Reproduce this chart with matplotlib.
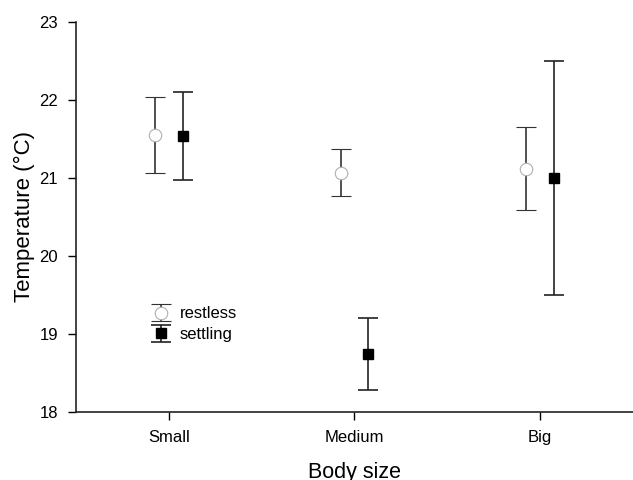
import matplotlib
matplotlib.use("Agg")
import matplotlib.pyplot as plt
import numpy as np

plt.rcParams['font.family'] = ['Liberation Sans', 'DejaVu Sans']

sizes = ["Small", "Medium", "Big"]
restless_mean = [21.55, 21.07, 21.12]
restless_err = [0.49, 0.30, 0.53]
settling_mean = [21.54, 18.74, 21.00]
settling_err = [0.56, 0.46, 1.50]

x = np.arange(len(sizes))
off = 0.075

fig = plt.figure(figsize=(6.33, 4.8), dpi=100)
ax = fig.add_axes([0.12, 0.1417, 0.88, 0.8125])

ax.errorbar(x - off, restless_mean, yerr=restless_err, fmt='o', ms=9,
            mfc='white', mec='#b0b0b0', mew=0.8, ecolor='#333333',
            elinewidth=1.2, capsize=7, capthick=1.2, label='restless')
ax.errorbar(x + off, settling_mean, yerr=settling_err, fmt='s', ms=7.5,
            mfc='black', mec='black', ecolor='#222222',
            elinewidth=1.2, capsize=7, capthick=1.2, label='settling')

ax.set_xlim(-0.5, 2.5)
ax.set_ylim(18, 23)
ax.set_xticks(x)
ax.set_xticklabels(sizes)
ax.set_yticks([18, 19, 20, 21, 22, 23])
ax.tick_params(direction='out', length=6, width=1, labelsize=12, pad=7)
for s in ['top', 'right']:
    ax.spines[s].set_visible(False)
for s in ['left', 'bottom']:
    ax.spines[s].set_linewidth(1.2)
    ax.spines[s].set_color('#222222')

ax.set_xlabel("Body size", fontsize=15.5, labelpad=12)
ax.set_ylabel("Temperature (°C)", fontsize=16, labelpad=3)

ax.legend(loc='upper left', bbox_to_anchor=(0.12, 0.292), frameon=False,
          fontsize=12, handlelength=1.2, handletextpad=0.5, labelspacing=0.35,
          borderpad=0)

fig.savefig("out.png", dpi=100)
